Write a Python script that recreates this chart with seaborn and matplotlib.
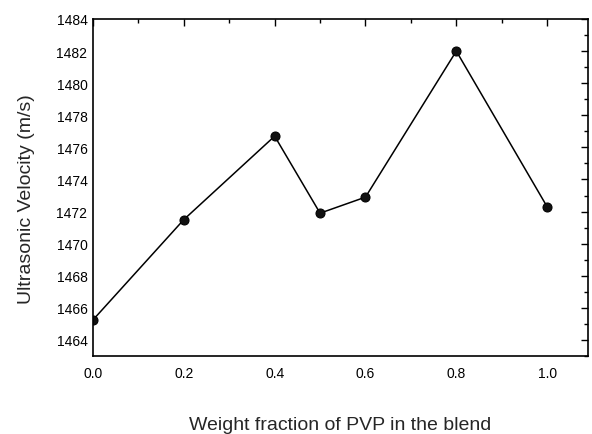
import matplotlib
matplotlib.use('Agg')
import matplotlib.pyplot as plt
import seaborn as sns
import pandas as pd
from matplotlib.ticker import MultipleLocator

# data
weight_fraction = [0.0, 0.2, 0.4, 0.5, 0.6, 0.8, 1.0]
velocity = [1465.25, 1471.5, 1476.7, 1471.9, 1472.9, 1482.0, 1472.3]

df = pd.DataFrame({'Weight_fraction': weight_fraction, 'Velocity': velocity})

sns.set_style('white')
plt.rcParams['font.family'] = ['Liberation Sans', 'DejaVu Sans']

fig = plt.figure(figsize=(5.92, 4.35), dpi=100)
ax = fig.add_axes([93/592, 1 - 357/435, (588-93)/592, (357-20)/435])

sns.lineplot(data=df, x='Weight_fraction', y='Velocity', ax=ax, color='black',
             linewidth=1.1, marker='o', markersize=6.5, markeredgecolor='black',
             markerfacecolor='#111111')

ax.set_xlim(0.0, 1.09)
ax.set_ylim(1463, 1484)
ax.xaxis.set_major_locator(MultipleLocator(0.2))
ax.xaxis.set_minor_locator(MultipleLocator(0.1))
ax.yaxis.set_minor_locator(MultipleLocator(1))
ax.set_yticks(range(1464, 1485, 2))
ax.xaxis.set_major_formatter(plt.FuncFormatter(lambda v, p: f'{v:.1f}'))

ax.tick_params(which='both', direction='in', top=True, right=True,
               labelsize=10, colors='black')
ax.tick_params(axis='y', pad=4)
ax.tick_params(axis='x', pad=7)
ax.tick_params(which='major', length=5, width=1)
ax.tick_params(which='minor', length=3, width=1)
for s in ax.spines.values():
    s.set_color('black')
    s.set_linewidth(1.2)

ax.set_xlabel('Weight fraction of PVP in the blend', fontsize=14, labelpad=26)
ax.set_ylabel('Ultrasonic Velocity (m/s)', fontsize=14)
ax.yaxis.set_label_coords(-0.118, 0.469)

fig.savefig('out.png', dpi=100)
